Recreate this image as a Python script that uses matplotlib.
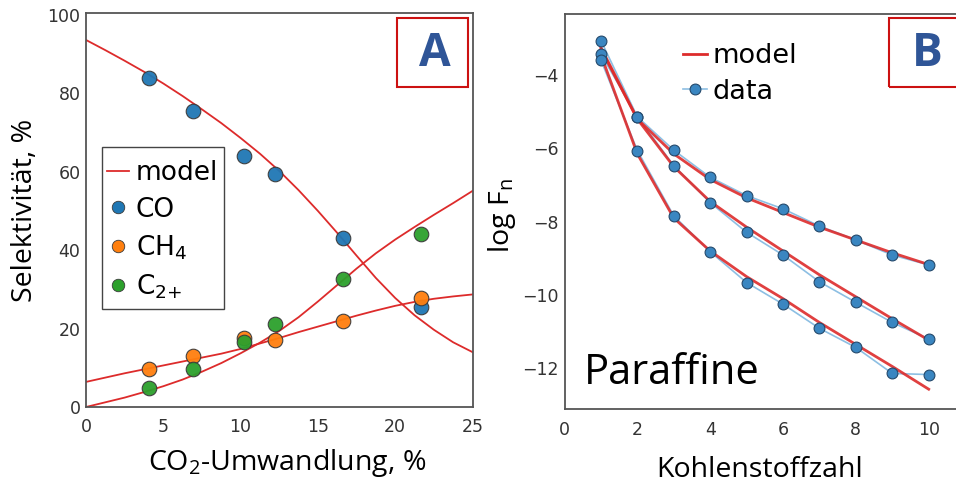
import matplotlib
matplotlib.use("Agg")
import matplotlib.pyplot as plt
from matplotlib.lines import Line2D
from matplotlib.patches import Rectangle

# ---------------- Data: panel A ----------------
conv = [4.1, 6.9, 10.2, 12.2, 16.65, 21.7]
sel_co = [84.0, 75.4, 64.1, 59.5, 43.1, 25.5]
sel_ch4 = [9.7, 13.0, 17.5, 17.2, 21.9, 27.8]
sel_c2 = [4.8, 9.7, 16.7, 21.1, 32.6, 44.1]

model_x = [0, 1.25, 2.5, 3.75, 5, 6.25, 7.5, 8.75, 10, 11.25, 12.5,
           13.75, 15, 16.25, 17.5, 18.75, 20, 21.25, 22.5, 23.75, 25]
model_co = [93.6, 91.0, 88.3, 85.5, 82.5, 79.3, 75.9, 72.4, 68.6, 64.6, 60.2,
            55.3, 50.0, 44.4, 38.6, 32.9, 27.8, 23.4, 19.7, 16.5, 14.0]
model_ch4 = [6.4, 7.5, 8.6, 9.6, 10.6, 11.6, 12.6, 13.6, 14.8, 16.2, 17.6,
             19.1, 20.5, 21.9, 23.3, 24.6, 25.8, 26.8, 27.6, 28.2, 28.7]
model_c2 = [0.0, 1.2, 2.4, 3.8, 5.3, 7.0, 9.0, 11.2, 13.7, 16.4, 19.4,
            22.9, 26.9, 31.1, 35.3, 39.2, 42.7, 45.9, 49.0, 52.0, 55.1]

# ---------------- Data: panel B ----------------
carbon_n = [1, 2, 3, 4, 5, 6, 7, 8, 9, 10]
logf_data_1 = [-3.06, -5.14, -6.05, -6.79, -7.29, -7.65, -8.12, -8.50, -8.91, -9.18]
logf_data_2 = [-3.43, -5.14, -6.47, -7.48, -8.29, -8.91, -9.64, -10.20, -10.75, -11.20]
logf_data_3 = [-3.59, -6.06, -7.84, -8.82, -9.66, -10.25, -10.91, -11.43, -12.14, -12.17]
logf_model_1 = [-3.25, -5.20, -6.15, -6.85, -7.35, -7.75, -8.15, -8.50, -8.85, -9.17]
logf_model_2 = [-3.30, -5.20, -6.50, -7.45, -8.15, -8.80, -9.45, -10.05, -10.65, -11.23]
logf_model_3 = [-3.45, -6.15, -7.90, -8.80, -9.50, -10.10, -10.75, -11.35, -11.95, -12.57]

W, H = 956, 483
fig = plt.figure(figsize=(W / 100, H / 100), dpi=100)

LABEL_FONT = ["Open Sans", "DejaVu Sans"]
RED = "#dd2b2b"
SPINE = "#555555"
TICKC = "#333333"

def px(x0, y0, x1, y1):
    return [x0 / W, 1 - y1 / H, (x1 - x0) / W, (y1 - y0) / H]

# ---------------- Panel A ----------------
axA = fig.add_axes(px(86, 13.3, 472.5, 407))
axA.plot(model_x, model_co, color=RED, lw=1.3, zorder=2)
axA.plot(model_x, model_ch4, color=RED, lw=1.3, zorder=2)
axA.plot(model_x, model_c2, color=RED, lw=1.3, zorder=2)
mk = dict(marker="o", ls="none", ms=10.5, mec="#3a3a3a", mew=0.8, alpha=0.95, zorder=3)
axA.plot(conv, sel_co, color="#1f77b4", **mk)
axA.plot(conv, sel_ch4, color="#ff7f0e", **mk)
axA.plot(conv, sel_c2, color="#2ca02c", **mk)
axA.set_xlim(0, 25)
axA.set_ylim(0, 100.4)
axA.set_xticks([0, 5, 10, 15, 20, 25])
axA.set_yticks([0, 20, 40, 60, 80, 100])
axA.tick_params(length=0, labelsize=12.5, colors=TICKC, pad=4)
axA.tick_params(axis="x", pad=8)
for s in axA.spines.values():
    s.set_color(SPINE)
    s.set_linewidth(1.3)

# legend frame (drawn separately to control its exact padding)
axA.add_patch(Rectangle((102.3 / W, 1 - 308.7 / H), (223.7 - 102.3) / W, (308.7 - 146.7) / H,
                        transform=fig.transFigure, facecolor="white", clip_on=False,
                        edgecolor="#444444", lw=1.0, zorder=4))
handlesA = [
    Line2D([], [], color=RED, lw=1.3),
    Line2D([], [], marker="o", ls="none", color="#1f77b4", ms=9, mec="#3a3a3a", mew=0.6),
    Line2D([], [], marker="o", ls="none", color="#ff7f0e", ms=9, mec="#3a3a3a", mew=0.6),
    Line2D([], [], marker="o", ls="none", color="#2ca02c", ms=9, mec="#3a3a3a", mew=0.6),
]
legA = axA.legend(handlesA, ["model", "CO", "CH$_4$", "C$_{2{+}}$"],
                  loc="upper left", bbox_to_anchor=(106.5 / W, 1 - 160 / H),
                  bbox_transform=fig.transFigure,
                  fontsize=19, frameon=False, handlelength=0.85, handletextpad=0.25,
                  labelspacing=0.4, borderpad=0, borderaxespad=0)
legA.set_zorder(6)

fig.text(25 / W, 1 - 210 / H, "Selektivität, %", rotation=90, ha="center", va="center",
         fontsize=20.5, family=LABEL_FONT)
fig.text(287 / W, 1 - 463 / H, r"$\mathregular{CO_2}$-Umwandlung, %", ha="center", va="center",
         fontsize=20.5, family=LABEL_FONT)

fig.patches.append(Rectangle((396.7 / W, 1 - 87 / H), 71 / W, 69 / H, transform=fig.transFigure,
                             fill=False, edgecolor="#cc1111", lw=1.5, figure=fig))
fig.text(435 / W, 1 - 53 / H, "A", ha="center", va="center", fontsize=33, fontweight="bold",
         color="#2f5597", family=LABEL_FONT)

# ---------------- Panel B ----------------
xmaxB = 10.9
axB = fig.add_axes(px(564.5, 14, 564.5 + xmaxB * 36.42, 409.3))
data_sets = [logf_data_1, logf_data_2, logf_data_3]
model_sets = [logf_model_1, logf_model_2, logf_model_3]
for d in data_sets:
    axB.plot(carbon_n, d, color="#8dbfe3", lw=1.2, zorder=1)
for m in model_sets:
    axB.plot(carbon_n, m, color=RED, lw=2.0, alpha=0.9, zorder=2)
for d in data_sets:
    axB.plot(carbon_n, d, marker="o", ls="none", ms=7.8, color="#3a86c1",
             mec="#24496b", mew=0.8, zorder=3)
axB.set_xlim(0, xmaxB)
axB.set_ylim(-13.118, -2.336)
axB.set_xticks([0, 2, 4, 6, 8, 10])
axB.set_yticks([-4, -6, -8, -10, -12])
axB.tick_params(length=0, labelsize=12.5, colors=TICKC, pad=4)
axB.tick_params(axis="x", pad=8.5)
for s in axB.spines.values():
    s.set_color(SPINE)
    s.set_linewidth(1.3)

handlesB = [
    Line2D([], [], color=RED, lw=2.0),
    Line2D([], [], color="#8dbfe3", lw=1.2, marker="o", ms=7.8, mfc="#3a86c1",
           mec="#24496b", mew=0.8),
]
axB.legend(handlesB, ["model", "data"], loc="upper left",
           bbox_to_anchor=(682.5 / W, 1 - 43 / H), bbox_transform=fig.transFigure,
           fontsize=19.5, frameon=False, handlelength=0.9, handletextpad=0.2,
           labelspacing=0.36, borderpad=0, borderaxespad=0)

axB.text((584 - 564.5) / (xmaxB * 36.42), 1 - (384 - 14) / 395.3, "Paraffine",
         transform=axB.transAxes, ha="left", va="baseline", fontsize=30, family=LABEL_FONT)

fig.text(502 / W, 1 - 216 / H, r"log F$_\mathregular{n}$", rotation=90, ha="center", va="center",
         fontsize=20.5, family=LABEL_FONT)
fig.text(760 / W, 1 - 470 / H, "Kohlenstoffzahl", ha="center", va="center",
         fontsize=20.5, family=LABEL_FONT)

fig.patches.append(Rectangle((889.3 / W, 1 - 87 / H), 80 / W, 69 / H, transform=fig.transFigure,
                             fill=False, edgecolor="#cc1111", lw=1.5, figure=fig))
fig.text(927 / W, 1 - 53 / H, "B", ha="center", va="center", fontsize=33, fontweight="bold",
         color="#2f5597", family=LABEL_FONT)

fig.savefig("out.png", dpi=100)
